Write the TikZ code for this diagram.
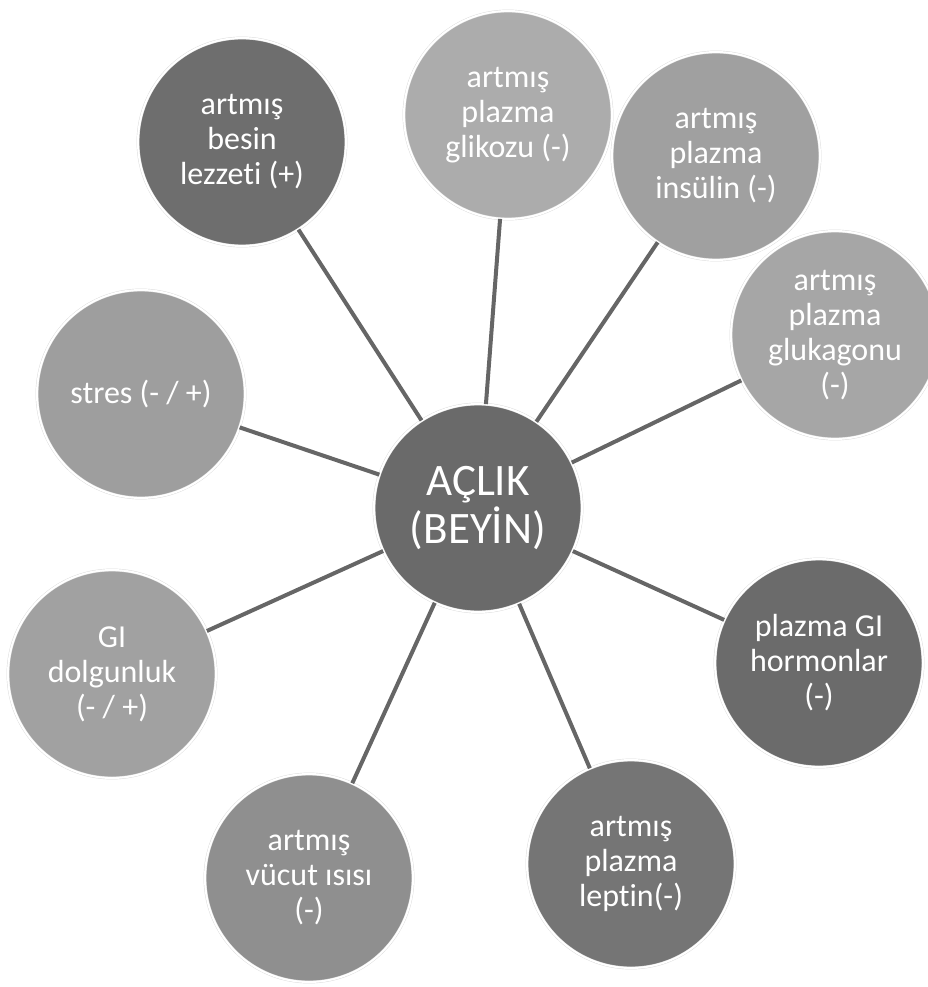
\documentclass[tikz,border=0pt]{standalone}
\usepackage{fontspec}
\setmainfont[Ligatures=NoCommon]{Carlito}
\usepackage{xcolor}

\definecolor{hubgray}{HTML}{6A6A6A}
\definecolor{linkgray}{HTML}{666666}
\definecolor{tastegray}{HTML}{6E6E6E}
\definecolor{glucgray}{HTML}{ACACAC}
\definecolor{insgray}{HTML}{A0A0A0}
\definecolor{glkgray}{HTML}{A6A6A6}
\definecolor{horgray}{HTML}{6B6B6B}
\definecolor{lepgray}{HTML}{757575}
\definecolor{tempgray}{HTML}{8F8F8F}
\definecolor{fullgray}{HTML}{A1A1A1}
\definecolor{stressgray}{HTML}{9E9E9E}

\tikzset{
	bubble/.style={circle, minimum size=208pt, inner sep=0pt, text=white, align=center,
		draw=black!15, double=white, double distance=2pt, line width=0.4pt,
		font=\fontsize{32}{35}\selectfont},
	hub/.style={bubble, fill=hubgray, font=\fontsize{45}{48}\selectfont},
	link/.style={draw=linkgray, line width=4pt}
}

\begin{document}
\begin{tikzpicture}[x=1pt,y=-1pt]
			\useasboundingbox (0,0) rectangle (928,987);

			\node[hub] (hunger) at (478,508) {AÇLIK\\(BEYİN)};

			\node[bubble, fill=tastegray] (taste) at (242,142) {artmış\\besin\\lezzeti (+)};
			\node[bubble, fill=glucgray] (glucose) at (508,115) {artmış\\plazma\\glikozu (-)};
			\node[bubble, fill=insgray] (insulin) at (716,156) {artmış\\plazma\\insülin (-)};
			\node[bubble, fill=glkgray] (glucagon) at (835,335) {artmış\\plazma\\glukagonu\\(-)};
			\node[bubble, fill=horgray] (gihorm) at (819,663) {plazma GI\\hormonlar\\(-)};
			\node[bubble, fill=lepgray] (leptin) at (631,864) {artmış\\plazma\\leptin(-)};
			\node[bubble, fill=tempgray] (temp) at (309,878) {artmış\\vücut ısısı\\(-)};
			\node[bubble, fill=fullgray] (gifull) at (112,674) {GI\\dolgunluk\\(- / +)};
			\node[bubble, fill=stressgray] (stress) at (141,394) {stres (- / +)};

			\foreach \t in {taste,glucose,insulin,glucagon,gihorm,leptin,temp,gifull,stress}
				\draw[link] (hunger) -- (\t);

		\end{tikzpicture}
\end{document}
